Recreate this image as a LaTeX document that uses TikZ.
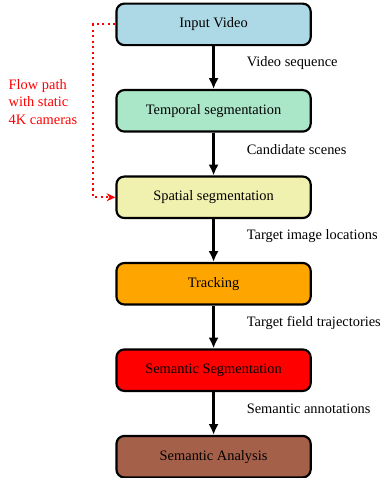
\documentclass[tikz,border=0pt]{standalone}
\usepackage{fontspec}
\setmainfont{Liberation Serif}
\usepackage{xcolor}
\usetikzlibrary{arrows.meta,positioning}
\definecolor{InputBlue}{HTML}{ADD8E6}
\definecolor{TempMint}{HTML}{AAE6C8}
\definecolor{SpatYellow}{HTML}{F0F0AF}
\definecolor{TrackOrange}{HTML}{FFA500}
\definecolor{SemRed}{HTML}{FF0000}
\definecolor{AnaBrown}{HTML}{A5604A}

\tikzset{
  stage/.style={draw=black,line width=1.5pt,rounded corners=5.5pt,
    minimum width=134.8pt,minimum height=28.8pt,align=center},
  flow/.style={line width=1.5pt,-{Latex[length=7.5pt,width=7pt]}},
  flowlabel/.style={anchor=west,xshift=19pt,yshift=3pt},
  campath/.style={red,line width=1.4pt,dash pattern=on 1.4pt off 2.4pt,
    -{Stealth[length=6pt,width=5.5pt]}}
}

\begin{document}
\begin{tikzpicture}[font=\normalsize,node distance=29.7pt]
    \useasboundingbox (0,0) rectangle (265.8pt,-331.7pt);

    % Processing stages, top to bottom.
    \node[stage,fill=InputBlue] (input) at (148.2pt,-16.9pt) {Input Video};
    \node[stage,fill=TempMint,below=of input] (temporal) {Temporal segmentation};
    \node[stage,fill=SpatYellow,below=of temporal] (spatial) {Spatial segmentation};
    \node[stage,fill=TrackOrange,below=of spatial] (tracking) {Tracking};
    \node[stage,fill=SemRed,below=of tracking] (semseg) {Semantic Segmentation};
    \node[stage,fill=AnaBrown,below=of semseg] (analysis) {Semantic Analysis};

    % Data passed between stages.
    \draw[flow] (input) -- node[flowlabel] {Video sequence} (temporal);
    \draw[flow] (temporal) -- node[flowlabel] {Candidate scenes} (spatial);
    \draw[flow] (spatial) -- node[flowlabel] {Target image locations} (tracking);
    \draw[flow] (tracking) -- node[flowlabel] {Target field trajectories} (semseg);
    \draw[flow] (semseg) -- node[flowlabel] {Semantic annotations} (analysis);

    % Shortcut for static cameras.
    \draw[campath] (input.west) -- ++(-15.3pt,0) |- (spatial.west);
    \node[anchor=west,align=left,text=red] (camnote) at (2.5pt,-70.8pt)
      {Flow path\\with static\\4K cameras};
\end{tikzpicture}
\end{document}
